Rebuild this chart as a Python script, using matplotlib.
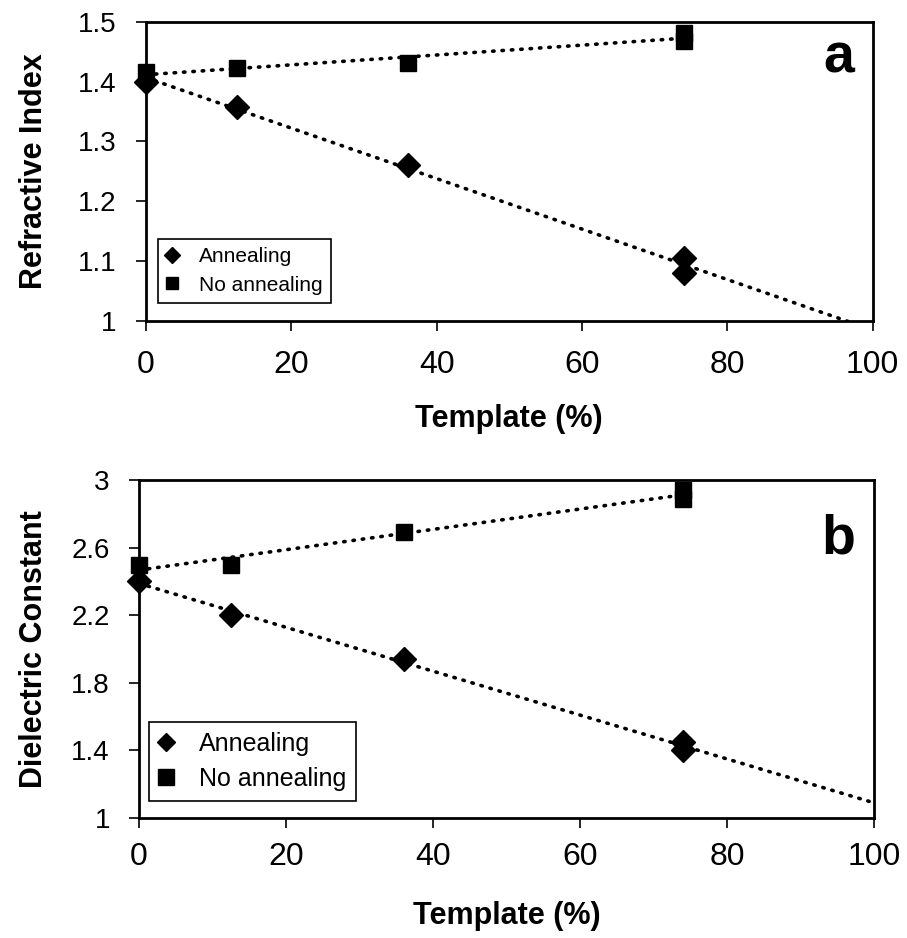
import numpy as np
import matplotlib
matplotlib.use("Agg")
import matplotlib.pyplot as plt
from matplotlib.ticker import FuncFormatter

plt.rcParams['font.family'] = ['Liberation Sans', 'DejaVu Sans']

# template content (%)
template = [0, 12.5, 36, 74, 74]

# panel a: refractive index
ri_anneal = [1.40, 1.358, 1.261, 1.105, 1.08]
ri_noanneal = [1.416, 1.423, 1.431, 1.468, 1.482]

# panel b: dielectric constant
k_anneal = [2.40, 2.20, 1.94, 1.45, 1.40]
k_noanneal = [2.50, 2.50, 2.69, 2.89, 2.94]

xticks = [0, 20, 40, 60, 80, 100]


def gfmt(v, pos):
    return "%g" % round(v, 2)


def panel(ax, x, ann, noann, ylim, yticks, ylabel, letter, letter_pos,
          legfs, legpos, leg_ms, ylab_x, xlab_y, xpad):
    x = np.array(x)
    # linear trend lines, the lower one carried forward to 100 %
    p1 = np.polyfit(x, ann, 1)
    xs1 = np.linspace(0, 100, 200)
    ax.plot(xs1, np.polyval(p1, xs1), color='black', lw=2.6,
            linestyle=(0, (0.4, 2.2)), dash_capstyle='round', zorder=2)
    p2 = np.polyfit(x, noann, 1)
    xs2 = np.linspace(0, 74, 150)
    ax.plot(xs2, np.polyval(p2, xs2), color='black', lw=2.6,
            linestyle=(0, (0.4, 2.2)), dash_capstyle='round', zorder=2)

    ax.plot(x, ann, 'D', color='black', ms=12.5, ls='none', label='Annealing',
            clip_on=False, zorder=4)
    ax.plot(x, noann, 's', color='black', ms=11.5, ls='none', label='No annealing',
            clip_on=False, zorder=3)

    ax.set_xlim(0, 100)
    ax.set_ylim(*ylim)
    ax.set_xticks(xticks)
    ax.set_yticks(yticks)
    ax.yaxis.set_major_formatter(FuncFormatter(gfmt))
    ax.tick_params(direction='out', length=7, width=1.2)
    ax.tick_params(axis='y', labelsize=20, pad=14)
    ax.tick_params(axis='x', labelsize=23, pad=xpad)
    for s in ax.spines.values():
        s.set_linewidth(2)
    ax.set_xlabel('Template (%)', fontsize=22, fontweight='bold')
    ax.set_ylabel(ylabel, fontsize=22, fontweight='bold')
    ax.yaxis.set_label_coords(ylab_x, 0.5)
    ax.xaxis.set_label_coords(0.5, xlab_y)
    ax.text(letter_pos[0], letter_pos[1], letter, transform=ax.transAxes,
            fontsize=40, fontweight='bold', ha='center', va='baseline')
    leg = ax.legend(loc='lower left', bbox_to_anchor=legpos, borderaxespad=0,
                    fontsize=legfs, frameon=True, fancybox=False,
                    edgecolor='black', framealpha=1, handlelength=0.6,
                    handletextpad=1.0, borderpad=0.4, labelspacing=0.45)
    leg.get_frame().set_linewidth(1.2)
    for h, m in zip(leg.legend_handles, leg_ms):
        h.set_markersize(m)


fig = plt.figure(figsize=(9.07, 9.38), dpi=100)
ax1 = fig.add_axes([0.161, 0.658, 0.801, 0.3187])
ax2 = fig.add_axes([0.1533, 0.1279, 0.8104, 0.3603])

panel(ax1, template, ri_anneal, ri_noanneal, (1, 1.5),
      [1, 1.1, 1.2, 1.3, 1.4, 1.5], 'Refractive Index', 'a', (0.953, 0.829),
      15, (0.016, 0.06), (8.5, 8), -0.133, -0.278, 14)
panel(ax2, template, k_anneal, k_noanneal, (1, 3),
      [1, 1.4, 1.8, 2.2, 2.6, 3], 'Dielectric Constant', 'b', (0.951, 0.784),
      18, (0.0135, 0.05), (9.5, 11), -0.123, -0.246, 10)

fig.savefig('out.png', dpi=100)
